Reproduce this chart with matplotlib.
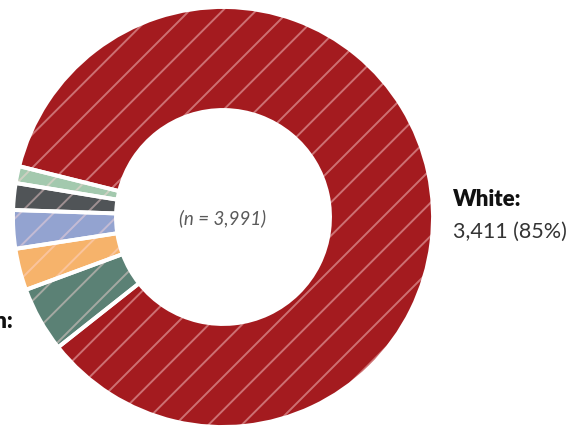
import matplotlib.pyplot as plt

# racial breakdown of respondents
groups = ["White", "Asian", "Hispanic", "Black", "Multiracial", "Other"]
counts = [3411, 200, 128, 118, 82, 52]
colors = ["#a41b1f", "#5b8175", "#f6b36b", "#93a3d0", "#505457", "#a3c9ae"]
total = 3991

plt.rcParams['hatch.linewidth'] = 1.4

fig = plt.figure(figsize=(5.73, 4.31), dpi=100)
ax = fig.add_axes([0, 0, 1, 1])

cx, cy, r = 223, 213, 210
ring = dict(center=(cx, cy), radius=r, startangle=166, counterclock=False,
            frame=True)

# base fill
ax.pie(counts, colors=colors, wedgeprops=dict(width=103, linewidth=0), **ring)
# diagonal stripes
hatched, _ = ax.pie(counts, wedgeprops=dict(width=103, linewidth=0), **ring)
for w in hatched:
    w.set_facecolor("none")
    w.set_edgecolor((1, 0.85, 0.85, 0.45))
    w.set_linewidth(0)
    w.set_hatch("/")
# white separators
edges, _ = ax.pie(counts, wedgeprops=dict(width=103, linewidth=2.8,
                                          edgecolor="white"), **ring)
for w in edges:
    w.set_facecolor("none")

ax.set_xlim(0, 573)
ax.set_ylim(0, 431)
ax.set_aspect('equal')
ax.axis('off')

ax.text(cx, cy, "(n = {:,})".format(total), ha='center', va='center',
        fontsize=13.5, style='italic', color='#5a5a5a', family='Lato')

share = round(100 * counts[0] / total)
ax.text(453, 231, groups[0] + ":", ha='left', va='center', fontsize=16,
        fontweight='heavy', color='#111111', family='Lato')
ax.text(453, 199, "{:,} ({}%)".format(counts[0], share), ha='left',
        va='center', fontsize=15.5, color='#333333', family='Lato')
ax.text(13, 109, groups[1] + ":", ha='right', va='center', fontsize=16,
        fontweight='heavy', color='#111111', family='Lato')

fig.savefig("out.png", dpi=100)
